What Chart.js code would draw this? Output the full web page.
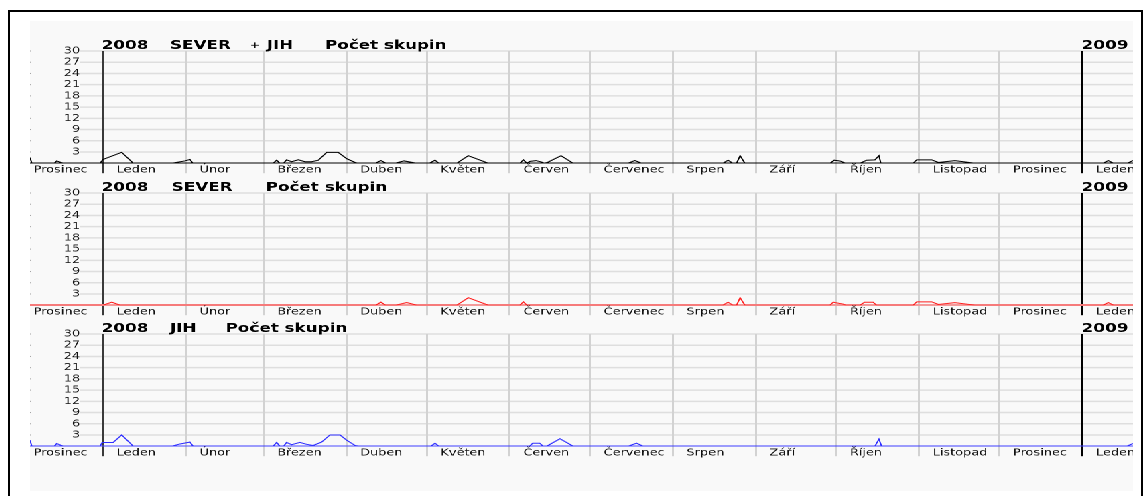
<!DOCTYPE html>
<html>
<head>
<meta charset="utf-8">
<script src="https://cdn.jsdelivr.net/npm/chart.js@4.4.1/dist/chart.umd.min.js"></script>
<style>
  html, body { margin: 0; padding: 0; background: #ffffff; }
  body { width: 1145px; height: 496px; position: relative; overflow: hidden; }
  #frame { position: absolute; left: 8px; top: 10px; width: 1131px; height: 500px;
           border: 2px solid #000; border-bottom: none; }
  #sheet { position: absolute; left: 30px; top: 21px; width: 1103px; height: 470px; background: #f9f9f9; }
  #stretch { position: absolute; left: 30px; top: 0; width: 823px; height: 496px; transform-origin: 0 0; }
  #stretch canvas { position: absolute; left: 0; }
</style>
</head>
<body>
<div id="frame"></div>
<div id="sheet"></div>
<div id="stretch"></div>
<script>
// Days are counted from 1 January 2008 (day 0).
const monthStarts = [-31, 0, 31, 60, 91, 121, 152, 182, 213, 244, 274, 305, 335, 366];
const monthNames = ['Prosinec', 'Leden', 'Únor', 'Březen', 'Duben', 'Květen', 'Červen',
                    'Červenec', 'Srpen', 'Září', 'Říjen', 'Listopad', 'Prosinec', 'Leden'];
const yearStarts = [0, 366];
const yearNames = ['2008', '2009'];
const dayMin = -27.28;
const dayMax = 384.94;
const countMax = 30;
const countStep = 3;

// [day, number of groups]
const severJihPoints = [
  [-27.28, 1.5], [-26.6, 0], [-18.2, 0], [-17.3, 0.6], [-14.8, 0],
  [-1.1, 0], [0, 1], [7, 2.9], [11.3, 0],
  [25.7, 0], [30.6, 0.6], [32.5, 1], [33.6, 0],
  [63.6, 0], [64.9, 0.8], [66.1, 0], [67.5, 0], [68.6, 0.9], [70.5, 0.4], [73, 0.9],
  [75.5, 0.4], [78, 0.4], [80.5, 0.8], [83.6, 2.9], [87.9, 2.9], [91.1, 1.2], [94.2, 0.2], [95.4, 0],
  [101.8, 0], [103.9, 0.7], [105.8, 0], [109.1, 0], [112.5, 0.6], [117.2, 0],
  [122, 0], [124.1, 0.8], [125.5, 0], [132.2, 0], [136.5, 2], [144, 0],
  [155.8, 0], [157.1, 0.9], [158.4, 0], [159.6, 0.5], [161.8, 0.7], [163.9, 0.3], [165, 0],
  [166.4, 0.3], [171.2, 2], [175.7, 0],
  [196.2, 0], [198.8, 0.7], [201.3, 0],
  [231.7, 0], [233.6, 0.8], [235.4, 0], [236.8, 0], [238.1, 2], [239.9, 0],
  [271.7, 0], [273.3, 0.8], [275.4, 0.6], [277.5, 0], [282.9, 0], [285.4, 0.8], [288.5, 0.9],
  [290, 2], [290.7, 0],
  [302.8, 0], [304.1, 0.9], [309.7, 0.9], [312.2, 0.2], [318.4, 0.7], [325.9, 0],
  [373.8, 0], [375.7, 0.7], [377.6, 0], [382.9, 0], [384.94, 0.7]
];

const severPoints = [
  [-27.28, 0], [0, 0], [3.3, 0.8], [6.4, 0],
  [102, 0], [103.9, 0.8], [105.6, 0], [109.5, 0], [113.5, 0.7], [117.2, 0],
  [132.2, 0], [136.5, 2], [144, 0],
  [155.8, 0], [157.1, 0.9], [158.4, 0],
  [231.7, 0], [233.6, 0.8], [235.4, 0], [236.8, 0], [238.1, 2], [239.9, 0],
  [271.7, 0], [272.9, 0.8], [276.5, 0.3], [277.6, 0], [282.9, 0], [284.6, 0.8], [287.8, 0.8], [289.1, 0],
  [302.8, 0], [304.1, 0.9], [309.7, 0.9], [312.2, 0.2], [318.4, 0.7], [325.9, 0],
  [373.8, 0], [375.7, 0.7], [377.6, 0], [384.94, 0]
];

const jihPoints = [
  [-27.28, 1.6], [-26.6, 0], [-18.2, 0], [-17.3, 0.7], [-14.8, 0],
  [-1.1, 0], [-0.3, 1], [3.8, 1], [7, 3], [11.3, 0],
  [25.7, 0], [28.8, 0.6], [32.5, 1.1], [33.7, 0],
  [63.6, 0], [64.9, 1], [66.1, 0], [67.5, 0], [68.6, 1], [70.5, 0.4], [73.6, 1], [76.1, 0.5],
  [78.6, 0.2], [81.7, 1.1], [84.8, 3], [88.6, 3], [91.1, 1.6], [94.2, 0.2], [96, 0],
  [122.5, 0], [124.1, 0.8], [125.5, 0],
  [159.4, 0], [160.6, 0.8], [163.2, 0.8], [164.5, 0], [165.8, 0], [166.6, 0.3], [170.8, 2], [175.7, 0],
  [196.3, 0], [199.4, 0.8], [201.9, 0],
  [288.5, 0], [290, 1.9], [291, 0],
  [382.6, 0], [384.94, 0.7]
];

// Layout: the charts are drawn narrow and widened horizontally by S.
const S = 1103 / 823;
const W = 823, H = 144, TITLE_ROOM = 16, PLOT_H = 112.2;
const FONT = '"DejaVu Sans", sans-serif';

// Title pieces: [text, offset from the 2008 line in page pixels, small]
const panels = [
  { top: 50.5, points: severJihPoints, color: '#000000', axisColor: '#000000', axisWidth: 1,
    title: [['SEVER', 67], ['+', 255, true], ['JIH', 163.7], ['Počet skupin', 222]] },
  { top: 192.5, points: severPoints, color: '#ff1f1f', axisColor: '#f39a9a', axisWidth: 2,
    title: [['SEVER', 68.7], ['Počet skupin', 162.7]] },
  { top: 334.4, points: jihPoints, color: '#2f2fff', axisColor: '#4a4aff', axisWidth: 1,
    title: [['JIH', 67], ['Počet skupin', 122.7]] }
];

function monthLineColor(v) {
  if (v === yearStarts[0]) return '#3a3a3a';
  if (v === yearStarts[1]) return '#000000';
  return '#d2d2d2';
}

// Horizontal count gridlines (under the month lines, starting right of the labels) and year titles.
const panelDecor = {
  id: 'panelDecor',
  beforeDraw(chart) {
    const { ctx, chartArea: a, scales: { y } } = chart;
    ctx.save();
    ctx.lineWidth = 1.5;
    ctx.strokeStyle = '#dedede';
    const x0 = a.left + 50 / S;
    for (const t of y.ticks) {
      if (!t.value) continue;
      const py = y.getPixelForValue(t.value);
      ctx.beginPath();
      ctx.moveTo(x0, py);
      ctx.lineTo(a.right, py);
      ctx.stroke();
      ctx.fillStyle = '#a0a0a0';
      ctx.fillRect(a.left, py - 0.5, 1.2 / S, 1);
    }
    ctx.restore();
  },
  afterDraw(chart, args, opts) {
    const { ctx, chartArea: a, scales: { x } } = chart;
    ctx.save();
    ctx.fillStyle = '#000';
    ctx.textBaseline = 'alphabetic';
    const ty = a.top - 2;
    const x08 = x.getPixelForValue(yearStarts[0]);
    const x09 = x.getPixelForValue(yearStarts[1]);
    ctx.font = 'bold 12.5px ' + FONT;
    ctx.textAlign = 'left';
    ctx.fillText(yearNames[0], x08 - 1.3 / S, ty);
    ctx.fillText(yearNames[1], x09 - 0.6 / S, ty);
    for (const [txt, off, small] of opts.pieces) {
      if (small) {
        ctx.font = '9px ' + FONT;
        ctx.textAlign = 'center';
        ctx.fillText(txt, a.left + (off - 30) / S, ty - 1);
        ctx.font = 'bold 12.5px ' + FONT;
        ctx.textAlign = 'left';
      } else {
        ctx.fillText(txt, x08 + off / S, ty);
      }
    }
    ctx.restore();
  }
};

const stretch = document.getElementById('stretch');
stretch.style.transform = 'scaleX(' + S + ')';

panels.forEach(p => {
  const cv = document.createElement('canvas');
  cv.width = W;
  cv.height = H;
  cv.style.top = (p.top - TITLE_ROOM) + 'px';
  stretch.appendChild(cv);

  new Chart(cv, {
    type: 'line',
    data: {
      datasets: [{
        data: p.points.map(([d, c]) => ({ x: d, y: c })),
        borderColor: p.color,
        borderWidth: 1,
        pointRadius: 0,
        tension: 0,
        fill: false
      }]
    },
    options: {
      responsive: false,
      animation: false,
      devicePixelRatio: 2,
      events: [],
      layout: { padding: { top: TITLE_ROOM, left: 0, right: 0, bottom: 0 } },
      plugins: {
        legend: { display: false },
        tooltip: { enabled: false },
        panelDecor: { pieces: p.title }
      },
      scales: {
        x: {
          type: 'linear',
          min: dayMin,
          max: dayMax,
          bounds: 'data',
          afterBuildTicks(s) { s.ticks = monthStarts.map(v => ({ value: v })); },
          afterFit(s) { s.height = H - TITLE_ROOM - PLOT_H; s.paddingLeft = 0; s.paddingRight = 0; },
          ticks: {
            autoSkip: false, maxRotation: 0, minRotation: 0,
            align: 'start', labelOffset: 10.2, padding: -9.2,
            font: { family: FONT, size: 9.6 }, color: '#111',
            callback: (v, i) => monthNames[i]
          },
          grid: {
            color: c => monthLineColor(c.tick && c.tick.value),
            tickColor: c => monthLineColor(c.tick && c.tick.value),
            lineWidth: 1.5,
            tickLength: 10
          },
          border: { display: true, color: p.axisColor, width: p.axisWidth }
        },
        y: {
          min: 0,
          max: countMax,
          afterFit(s) { s.width = 0; s.paddingTop = 0; s.paddingBottom = 0; },
          ticks: {
            stepSize: countStep, autoSkip: false, mirror: true, crossAlign: 'far', padding: 25.1,
            font: { family: FONT, size: 9.6 }, color: '#111',
            callback: v => (v === 0 ? '' : String(v))
          },
          grid: { display: false, drawTicks: false },
          border: { display: false }
        }
      }
    },
    plugins: [panelDecor]
  });
});
</script>
</body>
</html>
